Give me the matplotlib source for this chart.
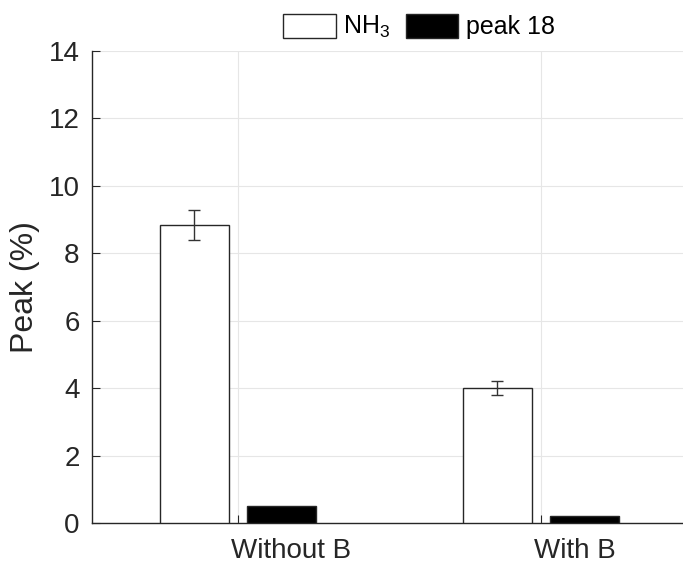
import matplotlib
matplotlib.use("Agg")
import matplotlib.pyplot as plt
import matplotlib.transforms as mtransforms
import numpy as np

plt.rcParams['font.family'] = ['Liberation Sans', 'DejaVu Sans']
plt.rcParams['mathtext.fontset'] = 'custom'
plt.rcParams['mathtext.rm'] = 'Liberation Sans'
plt.rcParams['mathtext.it'] = 'Liberation Sans'

categories = ["Without B", "With B"]
nh3 = [8.84, 4.0]
nh3_err = [0.44, 0.2]
peak18 = [0.5, 0.2]

fig = plt.figure(figsize=(6.83, 5.65), dpi=100)
ax = fig.add_axes([92/683, (565-523)/565, 606/683, (523-51)/565])

x = np.arange(1, len(categories) + 1)
w = 0.228
off = 0.144
ax.bar(x - off, nh3, w, color='white', edgecolor='#262626', linewidth=1.0,
       label='NH$\\mathregular{_3}$', zorder=3)
ax.errorbar(x - off, nh3, yerr=nh3_err, fmt='none', ecolor='#333333',
            elinewidth=1.0, capsize=4.3, capthick=1.0, zorder=4)
ax.bar(x + off, peak18, w, color='black', edgecolor='#262626', linewidth=1.0,
       label='peak 18', zorder=3)

x0 = 1 - 146/303
ax.set_xlim(x0, x0 + 2)
ax.set_ylim(0, 14)
ax.set_xticks(x)
ax.set_xticklabels(categories)
ax.set_yticks(np.arange(0, 15, 2))
ax.set_ylabel('Peak (%)', fontsize=23, color='#262626', labelpad=6)
ax.tick_params(axis='both', direction='in', labelsize=20, length=6,
               color='#262626', labelcolor='#262626')
ax.tick_params(axis='y', pad=9)
ax.tick_params(axis='x', pad=11)
shift = mtransforms.ScaledTranslation(-7/100, 0, fig.dpi_scale_trans)
for lab in ax.get_xticklabels():
    lab.set_horizontalalignment('left')
    lab.set_transform(lab.get_transform() + shift)
ax.grid(True, color='#e6e6e6', linewidth=0.8, zorder=0)
ax.set_axisbelow(True)
for s in ['top', 'right']:
    ax.spines[s].set_visible(False)
for s in ['left', 'bottom']:
    ax.spines[s].set_color('#262626')
    ax.spines[s].set_linewidth(1.0)

leg = ax.legend(loc='center', bbox_to_anchor=(419/683, (565-27)/565),
                bbox_transform=fig.transFigure, ncol=2, frameon=False,
                fontsize=18, handlelength=2.1, handleheight=1.1,
                handletextpad=0.3, columnspacing=0.6, borderpad=0.1)

fig.savefig('out.png', dpi=100)
